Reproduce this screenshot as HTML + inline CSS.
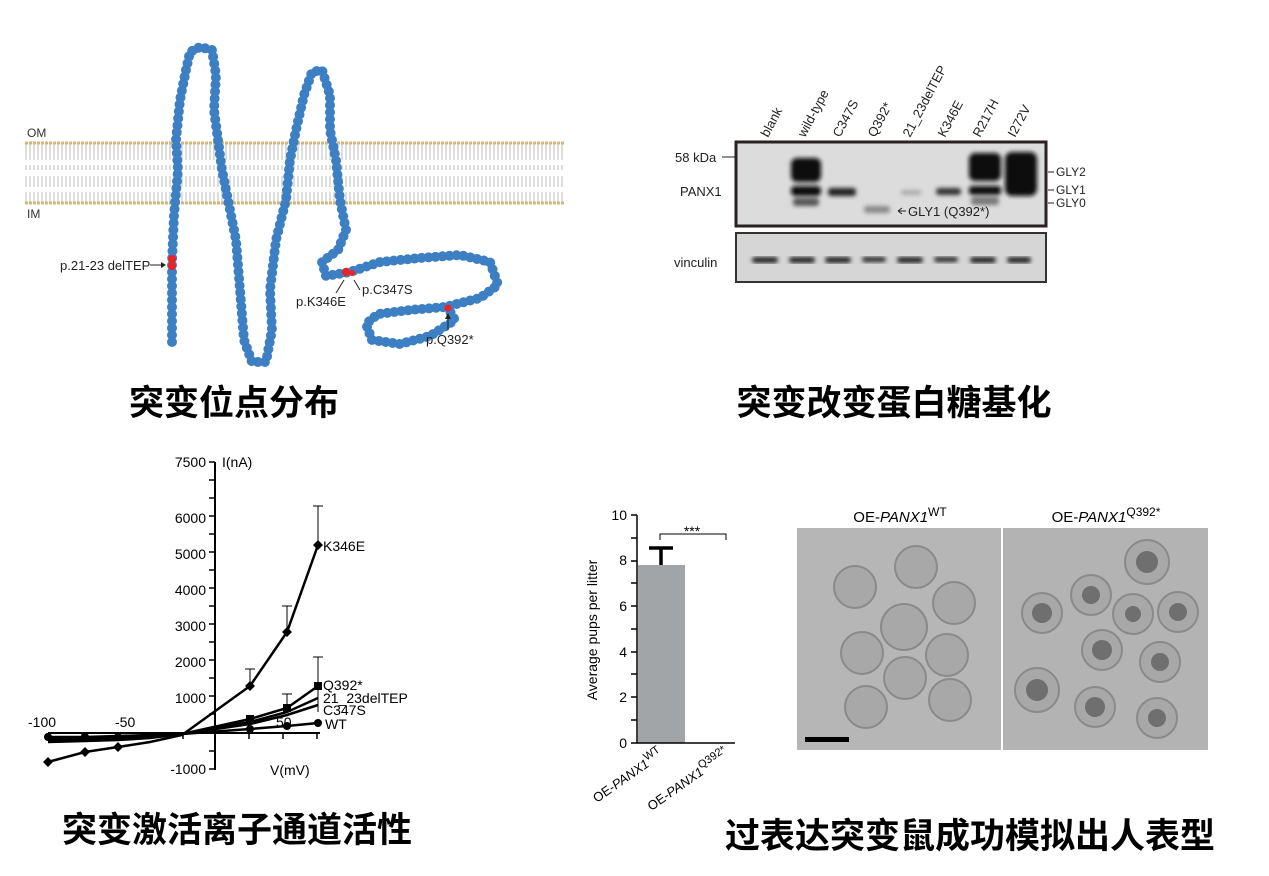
<!DOCTYPE html>
<html><head><meta charset="utf-8"><style>
html,body{margin:0;padding:0;background:#fff;width:1269px;height:876px;overflow:hidden}
svg{display:block}
text{font-family:"Liberation Sans","Noto Sans CJK SC",sans-serif}
.t{font-family:"Liberation Sans","Noto Sans CJK SC",sans-serif;font-size:35px;font-weight:bold;fill:#000}
</style></head><body>
<svg width="1269" height="876" viewBox="0 0 1269 876" xmlns="http://www.w3.org/2000/svg">
<defs>
<pattern id="lip" width="4" height="27" patternUnits="userSpaceOnUse">
<line x1="2" y1="3" x2="2" y2="25" stroke="#bbb" stroke-width="1"/>
</pattern>
<filter id="bl"><feGaussianBlur stdDeviation="2"/></filter>
</defs>
<rect x="25" y="143" width="540" height="27" fill="url(#lip)"/>
<rect x="25" y="176" width="540" height="27" fill="url(#lip)"/>
<line x1="25" y1="143" x2="565" y2="143" stroke="#d8b47c" stroke-width="3" stroke-dasharray="3 1"/>
<line x1="25" y1="203" x2="565" y2="203" stroke="#d8b47c" stroke-width="3" stroke-dasharray="3 1"/>
<text x="27" y="137" font-size="12" fill="#333">OM</text>
<text x="27" y="218" font-size="12" fill="#333">IM</text>
<path d="M172,342 L172,262 L174,215 L178,170 L176,140 L180,100 L186,70 L190,52 L200,47 L212,50 L216,75 L214,110 L218,140 L222,170 L228,200 L236,240 L240,290 L244,340 L252,362 L266,362 L272,330 L270,290 L276,240 L286,200 L290,160 L296,130 L304,95 L312,72 L322,70 L330,95 L330,130 L336,160 L340,200 L346,230 L338,250 L322,262 L326,276 L350,272 L380,262 L420,258 L460,255 L490,262 L498,285 L480,298 L445,307 L410,310 L378,314 L366,324 L372,340 L400,344 L430,336 L455,320 L448,308" fill="none" stroke="#3c7fc2" stroke-width="10" stroke-linecap="round" stroke-dasharray="0 7"/>
<circle cx="172" cy="259" r="4" fill="#e22"/><circle cx="172" cy="266" r="4" fill="#e22"/>
<circle cx="346" cy="272" r="4" fill="#e22"/><circle cx="352" cy="273" r="3" fill="#e22"/>
<circle cx="448" cy="308" r="3.5" fill="#e22"/>
<text x="60" y="270" font-size="13" fill="#222">p.21-23 delTEP</text>
<line x1="150" y1="265" x2="164" y2="265" stroke="#222"/><path d="M166,265 l-5,-3 v6z" fill="#222"/>
<text x="296" y="306" font-size="13" fill="#222">p.K346E</text>
<text x="362" y="294" font-size="13" fill="#222">p.C347S</text>
<line x1="336" y1="293" x2="344" y2="280" stroke="#222"/>
<line x1="360" y1="290" x2="354" y2="280" stroke="#222"/>
<text x="426" y="344" font-size="13" fill="#222">p.Q392*</text>
<line x1="448" y1="330" x2="448" y2="316" stroke="#222"/><path d="M448,313 l-3,6 h6z" fill="#222"/>
<text class="t" x="234" y="415" text-anchor="middle">突变位点分布</text>

<g font-size="13" fill="#222">
<text transform="translate(768,138) rotate(-62)">blank</text>
<text transform="translate(805,138) rotate(-62)">wild-type</text>
<text transform="translate(840,138) rotate(-62)">C347S</text>
<text transform="translate(875,138) rotate(-62)">Q392*</text>
<text transform="translate(910,138) rotate(-62)">21_23delTEP</text>
<text transform="translate(945,138) rotate(-62)">K346E</text>
<text transform="translate(980,138) rotate(-62)">R217H</text>
<text transform="translate(1015,138) rotate(-62)">I272V</text>
</g>
<rect x="736" y="142" width="310" height="84" fill="#dcdcdc" stroke="#2a2222" stroke-width="3"/>
<g filter="url(#bl)" fill="#111">
<rect x="791" y="158" width="30" height="24" rx="6"/>
<rect x="791" y="186" width="30" height="10" rx="4"/>
<rect x="793" y="198" width="26" height="8" rx="3" fill="#555"/>
<rect x="828" y="188" width="28" height="8" rx="3" fill="#222"/>
<rect x="864" y="206" width="26" height="7" rx="3" fill="#888"/>
<rect x="901" y="190" width="20" height="5" rx="2" fill="#aaa"/>
<rect x="936" y="188" width="25" height="7" rx="3" fill="#333"/>
<rect x="969" y="153" width="32" height="28" rx="6"/>
<rect x="969" y="186" width="32" height="9" rx="3"/>
<rect x="971" y="197" width="28" height="8" rx="3" fill="#777"/>
<rect x="1005" y="152" width="32" height="44" rx="7"/>
</g>
<rect x="736" y="233" width="310" height="49" fill="#d6d6d6" stroke="#333" stroke-width="2"/>
<g filter="url(#bl)" fill="#222">
<rect x="752" y="257" width="26" height="6" rx="3"/><rect x="789" y="257" width="26" height="6" rx="3"/>
<rect x="825" y="257" width="26" height="6" rx="3"/><rect x="862" y="257" width="24" height="5" rx="3"/>
<rect x="897" y="257" width="26" height="6" rx="3"/><rect x="934" y="257" width="24" height="5" rx="3"/>
<rect x="970" y="257" width="26" height="6" rx="3"/><rect x="1007" y="257" width="24" height="6" rx="3"/>
</g>
<g font-size="13" fill="#222">
<text x="675" y="162">58 kDa</text><line x1="722" y1="157" x2="736" y2="157" stroke="#222"/>
<text x="680" y="196">PANX1</text>
<text x="674" y="267">vinculin</text>
<text x="908" y="216">GLY1 (Q392*)</text><path d="M898,211 h8 M898,211 l4,-3 M898,211 l4,3" stroke="#222" fill="none"/>
<text x="1056" y="176" font-size="12">GLY2</text>
<text x="1056" y="194" font-size="12">GLY1</text>
<text x="1056" y="207" font-size="12">GLY0</text>
<path d="M1048,172 h6 M1048,190 h6 M1048,203 h6" stroke="#222"/>
</g>
<text class="t" x="894" y="415" text-anchor="middle">突变改变蛋白糖基化</text>

<g stroke="#000" stroke-width="2" fill="none">
<line x1="215" y1="462" x2="215" y2="770"/>
<line x1="48" y1="733" x2="320" y2="733"/>
</g>
<g stroke="#000" stroke-width="1.5">
<path d="M209,462h6M209,480h6M209,498h6M209,516h6M209,534h6M209,552h6M209,570h6M209,588h6M209,606h6M209,624h6M209,642h6M209,660h6M209,678h6M209,696h6M209,714h6M209,751h6M209,769h6"/>
<path d="M48,733v6M82,733v6M116,733v6M150,733v6M183,733v6M249,733v6M283,733v6M317,733v6"/>
</g>
<g font-size="14" fill="#000">
<text x="206" y="467" text-anchor="end">7500</text><text x="222" y="467">I(nA)</text>
<text x="206" y="523" text-anchor="end">6000</text>
<text x="206" y="559" text-anchor="end">5000</text>
<text x="206" y="595" text-anchor="end">4000</text>
<text x="206" y="631" text-anchor="end">3000</text>
<text x="206" y="667" text-anchor="end">2000</text>
<text x="206" y="703" text-anchor="end">1000</text>
<text x="206" y="774" text-anchor="end">-1000</text>
<text x="28" y="727">-100</text><text x="115" y="727">-50</text><text x="276" y="727">50</text>
<text x="270" y="775">V(mV)</text>
<text x="323" y="551">K346E</text><text x="323" y="690">Q392*</text>
<text x="323" y="703">21_23delTEP</text><text x="323" y="715">C347S</text>
<text x="325" y="729">WT</text>
</g>
<g stroke="#000" stroke-width="1" fill="none">
<path d="M318,545V506M313,506h10M287,632V606M282,606h10M250,686V669M245,669h10M318,686V657M313,657h10M287,708V694M282,694h10M318,700V690M318,712V700"/>
</g>
<g stroke="#000" stroke-width="2.5" fill="none">
<polyline points="48,762 85,752 118,747 150,742 182,735 250,686 287,632 318,545"/>
<polyline points="48,742 85,741 118,740 150,738 182,734 250,719 287,708 318,686"/>
<polyline points="48,740 85,739 118,739 150,737 182,734 250,722 287,712 318,698"/>
<polyline points="48,739 85,738 118,738 150,736 182,734 250,724 287,715 318,705"/>
<polyline points="48,737 85,737 118,736 150,735 182,734 250,729 287,726 318,723"/>
</g>
<g fill="#000">
<path d="M48,757l5,5-5,5-5-5zM85,747l5,5-5,5-5-5zM118,742l5,5-5,5-5-5zM250,681l5,5-5,5-5-5zM287,627l5,5-5,5-5-5zM318,540l5,5-5,5-5-5z"/>
<rect x="314" y="682" width="8" height="8"/><rect x="283" y="704" width="8" height="8"/><rect x="246" y="715" width="8" height="8"/>
<circle cx="318" cy="723" r="4"/><circle cx="287" cy="726" r="4"/><circle cx="250" cy="729" r="4"/>
<circle cx="48" cy="737" r="4"/><circle cx="85" cy="737" r="4"/><circle cx="118" cy="737" r="4"/>
</g>
<text class="t" x="237" y="842" text-anchor="middle">突变激活离子通道活性</text>

<rect x="638" y="565" width="47" height="178" fill="#a2a5a8"/>
<path d="M661,565V548M649,548h24" stroke="#000" stroke-width="3.5" fill="none"/>
<path d="M660,540v-6h66v6" stroke="#000" stroke-width="1" fill="none"/>
<text x="692" y="536" font-size="14" text-anchor="middle">***</text>
<g stroke="#000" stroke-width="1.5" fill="none">
<path d="M637,515V743H735"/>
<path d="M631,515h6M631,538h6M631,561h6M631,583h6M631,606h6M631,629h6M631,652h6M631,674h6M631,697h6M631,720h6M631,743h6"/>
</g>
<g font-size="14" text-anchor="end">
<text x="627" y="520">10</text><text x="627" y="565">8</text><text x="627" y="611">6</text>
<text x="627" y="657">4</text><text x="627" y="702">2</text><text x="627" y="748">0</text>
</g>
<text transform="translate(597,630) rotate(-90)" font-size="14" text-anchor="middle">Average pups per litter</text>
<text transform="translate(664,756) rotate(-35)" font-size="13" text-anchor="end">OE-<tspan font-style="italic">PANX1</tspan><tspan dy="-6" font-size="11">WT</tspan></text>
<text transform="translate(730,756) rotate(-35)" font-size="13" text-anchor="end">OE-<tspan font-style="italic">PANX1</tspan><tspan dy="-6" font-size="11">Q392*</tspan></text>

<text x="900" y="522" font-size="15" text-anchor="middle">OE-<tspan font-style="italic">PANX1</tspan><tspan dy="-6" font-size="12">WT</tspan></text>
<text x="1106" y="522" font-size="15" text-anchor="middle">OE-<tspan font-style="italic">PANX1</tspan><tspan dy="-6" font-size="12">Q392*</tspan></text>
<rect x="797" y="528" width="204" height="222" fill="#b6b6b6"/>
<rect x="1003" y="528" width="205" height="222" fill="#b3b3b3"/>
<g fill="#a8a8a8" stroke="#8a8a8a" stroke-width="2">
<circle cx="855" cy="587" r="21"/><circle cx="916" cy="567" r="21"/><circle cx="954" cy="603" r="21"/>
<circle cx="904" cy="627" r="23"/><circle cx="862" cy="653" r="21"/><circle cx="947" cy="655" r="21"/>
<circle cx="905" cy="678" r="21"/><circle cx="866" cy="707" r="21"/><circle cx="950" cy="700" r="21"/>
<circle cx="1147" cy="562" r="22"/><circle cx="1091" cy="595" r="20"/><circle cx="1133" cy="614" r="20"/>
<circle cx="1178" cy="612" r="20"/><circle cx="1042" cy="613" r="20"/><circle cx="1102" cy="650" r="20"/>
<circle cx="1160" cy="662" r="20"/><circle cx="1037" cy="690" r="22"/><circle cx="1095" cy="707" r="20"/><circle cx="1157" cy="718" r="20"/>
</g>
<g fill="#6f6f6f">
<circle cx="1147" cy="562" r="11"/><circle cx="1091" cy="595" r="9"/><circle cx="1133" cy="614" r="8"/>
<circle cx="1178" cy="612" r="9"/><circle cx="1042" cy="613" r="10"/><circle cx="1102" cy="650" r="10"/>
<circle cx="1160" cy="662" r="9"/><circle cx="1037" cy="690" r="11"/><circle cx="1095" cy="707" r="10"/><circle cx="1157" cy="718" r="9"/>
</g>
<rect x="805" y="737" width="44" height="5" fill="#000"/>
<text class="t" x="970" y="848" text-anchor="middle">过表达突变鼠成功模拟出人表型</text>
</svg>
</body></html>
